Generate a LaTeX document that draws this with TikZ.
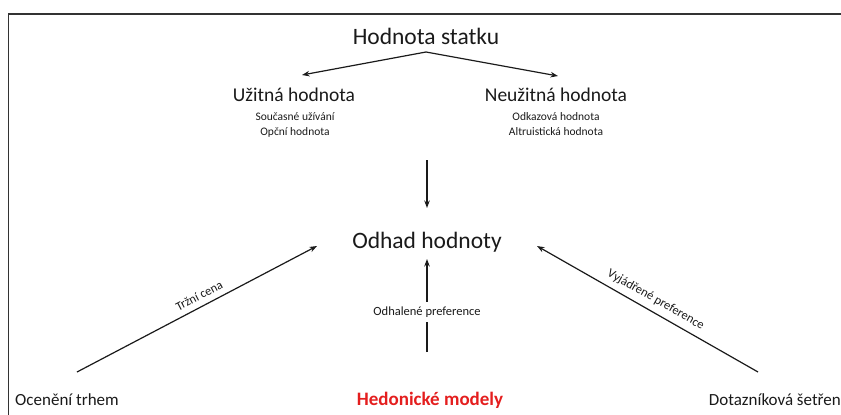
\documentclass[tikz,border=0pt]{standalone}
\usepackage{fontspec}
\setmainfont{Carlito}
\usetikzlibrary{arrows.meta}
\definecolor{txt}{HTML}{1A1A1A}
\definecolor{hred}{HTML}{E41E1E}
\tikzset{
  big/.style={font=\fontsize{23.5}{26}\selectfont, text=txt, inner sep=0pt},
  mid/.style={font=\fontsize{19.5}{22}\selectfont, text=txt, inner sep=0pt},
  small/.style={font=\fontsize{11.5}{13}\selectfont, text=txt, inner sep=0pt},
  leaf/.style={font=\fontsize{17}{19}\selectfont, text=txt, inner sep=0pt},
  lbl/.style={font=\fontsize{12.5}{14}\selectfont, text=txt},
  arr/.style={-{Stealth[length=7.5pt,width=5.5pt]}, line width=1.2pt, draw=txt},
  frame/.style={line width=1.4pt, draw=black!80}
}
\begin{document}
\begin{tikzpicture}[x=1pt,y=-1pt]
\useasboundingbox (0,0) rectangle (841,415);
\draw[frame] (8.5,415) -- (8.5,14) -- (841,14);

\node[big] (hs) at (426,36) {Hodnota statku};
\node[mid] (uh) at (294,95) {Užitná hodnota};
\node[small] (u1) at (295,117) {Současné užívání};
\node[small] (u2) at (295,132) {Opční hodnota};
\node[mid] (nh) at (556,95) {Neužitná hodnota};
\node[small] (n1) at (556,117) {Odkazová hodnota};
\node[small] (n2) at (556,132) {Altruistická hodnota};

\node[big] (oh) at (427,242) {Odhad hodnoty};

\node[leaf, anchor=west] (ot) at (15,400) {Ocenění trhem};
\node[leaf, font=\fontsize{19}{21}\selectfont\bfseries, text=hred] (hm) at (430,400) {Hedonické modely};
\node[leaf, anchor=east] (ds) at (841,400) {Dotazníková šetřen};

\coordinate (hsb) at (426,52);
\coordinate (uht) at (302,75);
\coordinate (nht) at (558,76);
\coordinate (dtop) at (427,160);
\coordinate (dbot) at (427,208);
\coordinate (ohb) at (427,259);
\coordinate (hmt) at (427,352);
\coordinate (ohl) at (317,246);
\coordinate (otr) at (77,372);
\coordinate (ohr) at (537,246);
\coordinate (dsl) at (758,372);

\draw[arr] (hsb) -- (uht);
\draw[arr] (hsb) -- (nht);
\draw[arr] (dtop) -- (dbot);
\draw[arr] (hmt) -- node[lbl, fill=white, inner xsep=6pt, inner ysep=5pt, pos=0.43] {Odhalené preference} (ohb);
\draw[arr] (otr) -- node[lbl, sloped, above=6pt, inner sep=0pt, pos=0.53] {Tržní cena} (ohl);
\draw[arr] (dsl) -- node[lbl, sloped, above=6pt, inner sep=0pt, pos=0.49] {Vyjádřené preference} (ohr);
\end{tikzpicture}
\end{document}
